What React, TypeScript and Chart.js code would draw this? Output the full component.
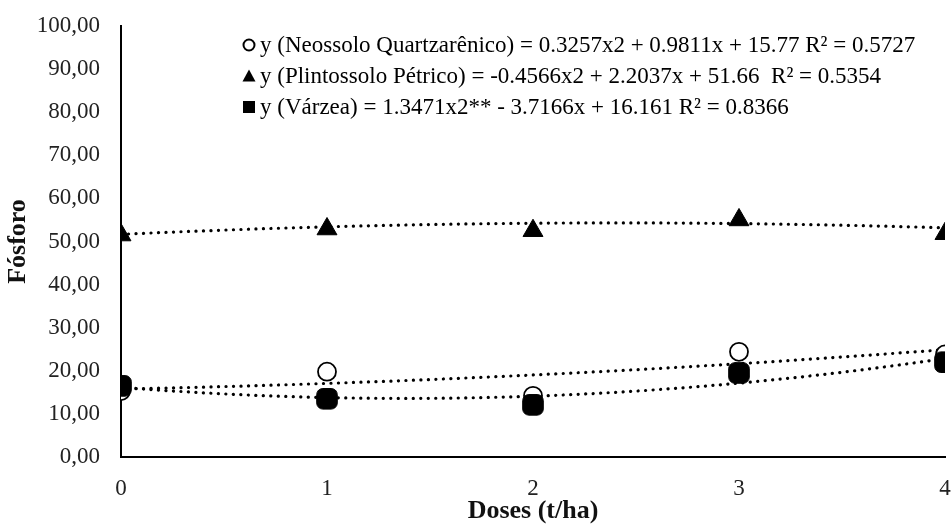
import React, { useEffect, useRef } from "react";
import { Chart, registerables } from "chart.js";

Chart.register(...registerables);

const doses = [0, 1, 2, 3, 4];
const neossolo = [15.3, 19.8, 14.2, 24.4, 23.8];
const plintossolo = [51.5, 52.9, 52.5, 55.0, 51.8];
const varzea = [16.5, 13.5, 12.1, 19.5, 22.0];

// trend-line coefficients [a, b, c] for y = a x² + b x + c (as printed on the chart)
const neossoloCoef = [0.3257, 0.9811, 15.77];
const plintossoloCoef = [-0.4566, 2.2037, 51.66];
const varzeaCoef = [1.3471, -3.7166, 16.161];

const legendLabels = [
  "y (Neossolo Quartzarênico) = 0.3257x2 + 0.9811x + 15.77 R² = 0.5727",
  "y (Plintossolo Pétrico) = -0.4566x2 + 2.2037x + 51.66  R² = 0.5354",
  "y (Várzea) = 1.3471x2** - 3.7166x + 16.161 R² = 0.8366",
];
const legendMarkers = ["circle", "triangle", "square"];

const yAxisTitle = "Fósforo";
const xAxisTitle = "Doses (t/ha)";

const FONT = "'Liberation Serif', 'Times New Roman', serif";

function trend(coef: number[]) {
  const pts: { x: number; y: number }[] = [];
  for (let i = 0; i <= 80; i++) {
    const x = (i / 80) * doses[doses.length - 1];
    pts.push({ x, y: coef[0] * x * x + coef[1] * x + coef[2] });
  }
  return pts;
}

const pointsOf = (vals: number[]) => doses.map((d, i) => ({ x: d, y: vals[i] }));

const legendPlugin = {
  id: "eqLegend",
  afterDraw(chart: any) {
    const ctx = chart.ctx as CanvasRenderingContext2D;
    const x0 = 249;
    const rows = [45, 76, 107];
    ctx.save();
    ctx.font = `23px ${FONT}`;
    ctx.textBaseline = "middle";
    ctx.textAlign = "left";
    legendLabels.forEach((t, i) => {
      const y = rows[i];
      const m = legendMarkers[i];
      ctx.fillStyle = "#000";
      ctx.strokeStyle = "#000";
      ctx.lineWidth = 2;
      if (m === "circle") {
        ctx.beginPath();
        ctx.arc(x0, y, 5.5, 0, Math.PI * 2);
        ctx.stroke();
      } else if (m === "triangle") {
        ctx.beginPath();
        ctx.moveTo(x0, y - 6.5);
        ctx.lineTo(x0 + 6.5, y + 5.5);
        ctx.lineTo(x0 - 6.5, y + 5.5);
        ctx.closePath();
        ctx.fill();
      } else {
        ctx.fillRect(x0 - 6, y - 6, 12, 12);
      }
      ctx.fillStyle = "#000";
      ctx.fillText(t, x0 + 11, y + 1);
    });
    ctx.restore();
  },
};

export default function App() {
  const ref = useRef<HTMLCanvasElement | null>(null);
  useEffect(() => {
    if (!ref.current) return;
    const dotted = {
      type: "line" as const,
      showLine: true,
      pointRadius: 0,
      borderColor: "#000",
      borderWidth: 3.2,
      borderDash: [0.1, 7.4],
      borderCapStyle: "round" as const,
      fill: false,
      tension: 0,
      order: 10,
    };
    const chart = new Chart(ref.current, {
      type: "scatter",
      data: {
        datasets: [
          { ...dotted, label: "t1", data: trend(neossoloCoef) },
          { ...dotted, label: "t2", data: trend(plintossoloCoef) },
          { ...dotted, label: "t3", data: trend(varzeaCoef) },
          {
            label: "Neossolo Quartzarênico",
            data: pointsOf(neossolo),
            pointStyle: "circle",
            pointRadius: 9,
            pointBackgroundColor: "#fff",
            pointBorderColor: "#000",
            pointBorderWidth: 1.8,
            order: 3,
          },
          {
            label: "Plintossolo Pétrico",
            data: pointsOf(plintossolo),
            pointStyle: "triangle",
            pointRadius: 11.5,
            pointBackgroundColor: "#000",
            pointBorderColor: "#000",
            pointBorderWidth: 1,
            order: 2,
          },
          {
            label: "Várzea",
            data: pointsOf(varzea),
            pointStyle: "rectRounded",
            pointRadius: 12,
            pointBackgroundColor: "#000",
            pointBorderColor: "#000",
            pointBorderWidth: 1,
            order: 1,
          },
        ],
      } as any,
      options: {
        animation: false,
        responsive: false,
        maintainAspectRatio: false,
        layout: { autoPadding: false, padding: { top: 26, right: 7, left: 0, bottom: 0 } },
        plugins: { legend: { display: false }, tooltip: { enabled: false } },
        scales: {
          x: {
            type: "linear",
            min: 0,
            max: 4,
            grid: { display: false, drawTicks: false },
            border: { display: true, color: "#000", width: 2 },
            ticks: {
              stepSize: 1,
              padding: 18,
              color: "#222",
              font: { family: FONT, size: 23 },
              maxRotation: 0,
            },
            title: {
              display: true,
              text: xAxisTitle,
              color: "#111",
              font: { family: FONT, size: 26, weight: "bold", lineHeight: 1 },
              padding: { top: 0, bottom: 0 },
            },
            afterFit(scale: any) {
              scale.height = 67;
              scale.paddingLeft = 0;
              scale.paddingRight = 0;
            },
          },
          y: {
            type: "linear",
            min: 0,
            max: 100,
            grid: { display: false, drawTicks: false },
            border: { display: true, color: "#000", width: 2 },
            ticks: {
              stepSize: 10,
              padding: 21,
              color: "#222",
              font: { family: FONT, size: 23 },
              callback: (v: any) => Number(v).toFixed(2).replace(".", ","),
            },
            title: {
              display: true,
              text: yAxisTitle,
              color: "#111",
              font: { family: FONT, size: 26, weight: "bold", lineHeight: 1 },
              padding: { top: 5, bottom: 0 },
            },
            afterFit(scale: any) {
              scale.width = 121;
              scale.paddingTop = 0;
              scale.paddingBottom = 0;
            },
          },
        },
      } as any,
      plugins: [legendPlugin],
    });
    return () => chart.destroy();
  }, []);
  return (
    <div style={{ position: "absolute", left: 0, top: 0, width: 952, height: 524, background: "#fff" }}>
      <canvas ref={ref} width={952} height={524} style={{ width: 952, height: 524, display: "block" }} />
    </div>
  );
}
